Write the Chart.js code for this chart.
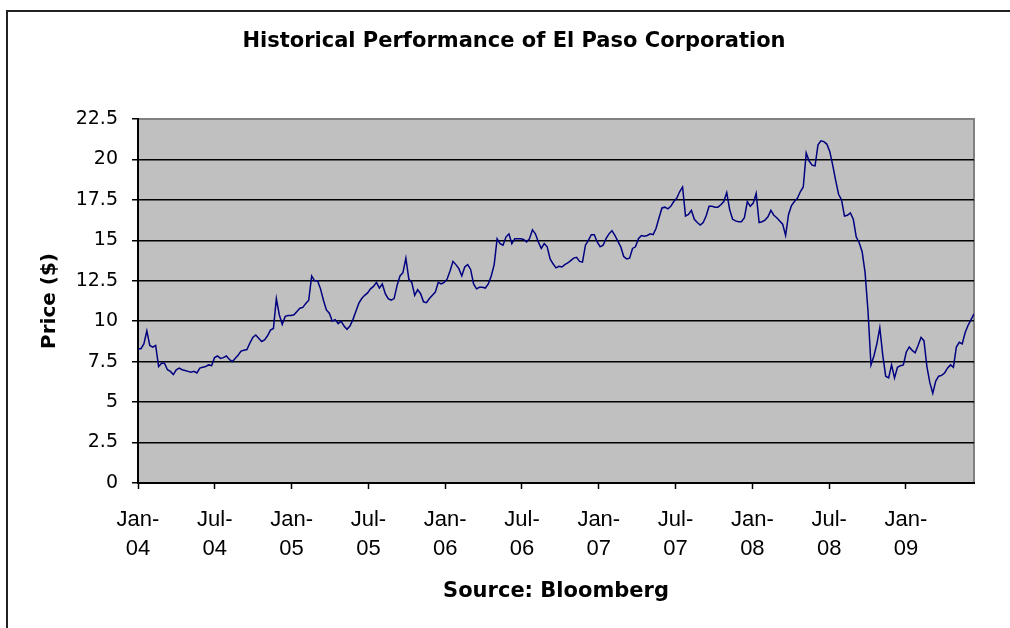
<!DOCTYPE html>
<html>
<head>
<meta charset="utf-8">
<script src="https://cdn.jsdelivr.net/npm/chart.js@4.4.1/dist/chart.umd.min.js"></script>
<style>
  html, body { margin: 0; padding: 0; background: #fff; overflow: hidden; }
  canvas { display: block; }
</style>
</head>
<body>
<canvas id="chart" width="1010" height="628"></canvas>
<script>
// Weekly closing price, first week of Jan 2004 onwards
const prices = [
  8.3, 8.3, 8.6, 9.4, 8.5, 8.4, 8.5, 7.2, 7.4, 7.4,
  7.0, 6.9, 6.7, 7.0, 7.1, 7.0, 6.95, 6.9, 6.85, 6.9,
  6.8, 7.1, 7.15, 7.2, 7.3, 7.25, 7.75, 7.85, 7.7, 7.75,
  7.85, 7.65, 7.5, 7.7, 7.9, 8.15, 8.2, 8.25, 8.65, 9.0,
  9.15, 8.95, 8.75, 8.85, 9.1, 9.45, 9.55, 11.4, 10.4, 9.8,
  10.3, 10.35, 10.35, 10.4, 10.6, 10.8, 10.85, 11.1, 11.3, 12.8,
  12.5, 12.5, 12.0, 11.3, 10.7, 10.5, 10.0, 10.1, 9.85, 10.0,
  9.7, 9.5, 9.7, 10.1, 10.6, 11.1, 11.4, 11.6, 11.75, 12.0,
  12.15, 12.4, 12.05, 12.3, 11.7, 11.4, 11.3, 11.4, 12.2, 12.8,
  13.0, 13.9, 12.6, 12.4, 11.6, 11.95, 11.7, 11.2, 11.15, 11.4,
  11.6, 11.8, 12.4, 12.3, 12.4, 12.6, 13.1, 13.7, 13.5, 13.25,
  12.8, 13.35, 13.5, 13.2, 12.3, 12.0, 12.1, 12.1, 12.05, 12.3,
  12.8, 13.5, 15.1, 14.8, 14.7, 15.2, 15.4, 14.8, 15.1, 15.1,
  15.1, 15.05, 14.9, 15.1, 15.65, 15.4, 14.9, 14.5, 14.8, 14.6,
  13.85, 13.55, 13.3, 13.4, 13.35, 13.5, 13.6, 13.75, 13.9, 13.95,
  13.7, 13.65, 14.7, 15.0, 15.35, 15.35, 14.9, 14.6, 14.7, 15.1,
  15.4, 15.6, 15.3, 14.95, 14.6, 14.0, 13.85, 13.9, 14.5, 14.6,
  15.1, 15.3, 15.25, 15.3, 15.4, 15.35, 15.75, 16.4, 17.0, 17.05,
  16.95, 17.1, 17.4, 17.6, 18.0, 18.3, 16.5, 16.6, 16.85, 16.3,
  16.1, 15.95, 16.1, 16.5, 17.1, 17.1, 17.05, 17.05, 17.2, 17.4,
  17.95, 16.9, 16.3, 16.2, 16.15, 16.15, 16.4, 17.4, 17.1, 17.3,
  17.9, 16.1, 16.15, 16.25, 16.45, 16.85, 16.55, 16.4, 16.2, 16.0,
  15.3, 16.6, 17.15, 17.4, 17.6, 18.0, 18.3, 20.4, 19.9, 19.65,
  19.6, 20.9, 21.15, 21.1, 20.95, 20.5, 19.65, 18.7, 17.85, 17.5,
  16.5, 16.55, 16.7, 16.3, 15.2, 14.85, 14.3, 13.0, 10.6, 7.3,
  7.85, 8.6, 9.6, 7.9, 6.6, 6.5, 7.3, 6.5, 7.15, 7.25,
  7.3, 8.1, 8.4, 8.2, 8.05, 8.5, 9.0, 8.8, 7.2, 6.2,
  5.55, 6.3, 6.6, 6.65, 6.8, 7.1, 7.3, 7.15, 8.4, 8.7,
  8.6, 9.3, 9.75, 10.1, 10.45
];
const xTickLabels = ['Jan-04', 'Jul-04', 'Jan-05', 'Jul-05', 'Jan-06', 'Jul-06',
  'Jan-07', 'Jul-07', 'Jan-08', 'Jul-08', 'Jan-09'];
const xTickMonths = [0, 6, 12, 18, 24, 30, 36, 42, 48, 54, 60];
const yTicks = [0, 2.5, 5, 7.5, 10, 12.5, 15, 17.5, 20, 22.5];

const WEEKS_PER_YEAR = 52.1775;
const points = prices.map((p, i) => ({ x: i * 12 / WEEKS_PER_YEAR, y: p }));

const axisFont = "'DejaVu Sans', sans-serif";

// frame, plot background and title (Excel look)
const excelLook = {
  id: 'excelLook',
  beforeDraw(chart) {
    const { ctx, chartArea: a } = chart;
    ctx.save();
    ctx.fillStyle = '#fff';
    ctx.fillRect(0, 0, chart.width, chart.height);
    ctx.strokeStyle = '#222';
    ctx.lineWidth = 2;
    ctx.beginPath();
    ctx.moveTo(7, chart.height + 5);
    ctx.lineTo(7, 11);
    ctx.lineTo(chart.width + 5, 11);
    ctx.stroke();
    ctx.fillStyle = '#c0c0c0';
    ctx.fillRect(a.left, a.top, a.right - a.left, a.bottom - a.top);
    ctx.strokeStyle = '#808080';
    ctx.lineWidth = 2;
    ctx.strokeRect(a.left, a.top, a.right - a.left, a.bottom - a.top);
    ctx.fillStyle = '#000';
    ctx.font = "bold 21px 'DejaVu Sans', sans-serif";
    ctx.textAlign = 'center';
    ctx.textBaseline = 'middle';
    ctx.fillText('Historical Performance of El Paso Corporation', 514, 42);
    ctx.restore();
  }
};

new Chart(document.getElementById('chart'), {
  type: 'line',
  data: {
    datasets: [{
      data: points,
      borderColor: '#000080',
      borderWidth: 1.5,
      pointRadius: 0,
      tension: 0,
      fill: false
    }]
  },
  options: {
    responsive: false,
    animation: false,
    layout: { padding: { top: 119, right: 36, left: 0, bottom: 0 } },
    plugins: {
      legend: { display: false },
      tooltip: { enabled: false }
    },
    scales: {
      x: {
        type: 'linear',
        min: 0,
        max: points[points.length - 1].x,
        afterBuildTicks: scale => { scale.ticks = xTickMonths.map(v => ({ value: v })); },
        afterFit: scale => { scale.height = 145; },
        grid: { drawOnChartArea: false, tickLength: 6, tickColor: '#000', tickWidth: 1.5 },
        border: { color: '#000', width: 2 },
        ticks: {
          autoSkip: false,
          maxRotation: 0,
          padding: 16,
          color: '#000',
          font: { family: "'Liberation Sans', Arial, sans-serif", size: 22, lineHeight: 1.32 },
          callback: (v, i) => {
            const lab = xTickLabels[i];
            return [lab.slice(0, 4), lab.slice(4)];
          }
        },
        title: {
          display: true,
          text: 'Source: Bloomberg',
          color: '#000',
          font: { family: axisFont, size: 21, weight: 'bold' },
          padding: { top: 0, bottom: 24 }
        }
      },
      y: {
        min: 0,
        max: 22.5,
        afterBuildTicks: scale => { scale.ticks = yTicks.map(v => ({ value: v })); },
        afterFit: scale => { scale.width = 138; },
        grid: {
          color: c => (c.tick && c.tick.value === 22.5) ? 'rgba(0,0,0,0)' : '#000',
          lineWidth: 1.5,
          tickLength: 6,
          tickColor: '#000',
          tickWidth: 1.5
        },
        border: { color: '#000', width: 2 },
        ticks: {
          padding: 14,
          color: '#000',
          font: { family: axisFont, size: 19 },
          callback: v => String(v)
        },
        title: {
          display: true,
          text: 'Price ($)',
          color: '#000',
          font: { family: axisFont, size: 20, weight: 'bold' },
          padding: { top: 38, bottom: 0 }
        }
      }
    }
  },
  plugins: [excelLook]
});
</script>
</body>
</html>
